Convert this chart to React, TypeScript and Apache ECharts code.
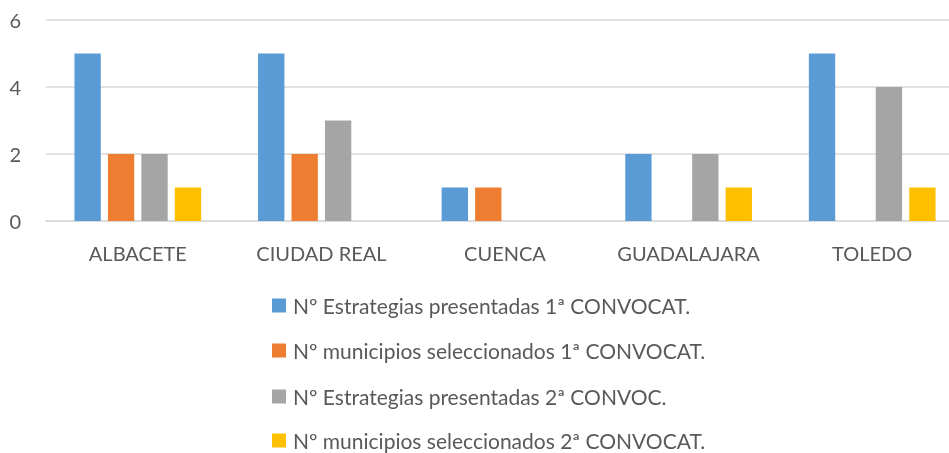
import React, { useEffect, useRef } from "react";
import * as echarts from "echarts";

const categories = ["ALBACETE", "CIUDAD REAL", "CUENCA", "GUADALAJARA", "TOLEDO"];
const seriesNames = [
  "Nº Estrategias presentadas 1ª CONVOCAT.",
  "Nº municipios seleccionados 1ª CONVOCAT.",
  "Nº Estrategias presentadas 2ª CONVOC.",
  "Nº municipios seleccionados 2ª CONVOCAT.",
];
const estrategias1 = [5, 5, 1, 2, 5];
const municipios1 = [2, 2, 1, 0, 0];
const estrategias2 = [2, 3, 0, 2, 4];
const municipios2 = [1, 0, 0, 1, 1];
const colors = ["#5b9bd5", "#ed7d31", "#a5a5a5", "#ffc000"];
const yTicks = { min: 0, max: 6, interval: 2 };
const legendRowCenters = [305, 350, 396, 440];

export default function App() {
  const ref = useRef<HTMLDivElement>(null);
  useEffect(() => {
    if (!ref.current) return;
    const chart = echarts.init(ref.current, null, { renderer: "svg" });
    const font = "Lato, 'Open Sans', sans-serif";
    const data = [estrategias1, municipios1, estrategias2, municipios2];
    chart.setOption({
      animation: false,
      color: colors,
      grid: { left: 46, width: 918, top: 20, bottom: 232, containLabel: false, outerBoundsMode: "none" },
      xAxis: {
        type: "category",
        data: categories,
        axisLine: { show: true, lineStyle: { color: "#d9d9d9", width: 1.5 } },
        axisTick: { show: false },
        axisLabel: { color: "#595959", fontSize: 20, fontFamily: font, margin: 22, interval: 0 },
      },
      yAxis: {
        type: "value",
        min: yTicks.min,
        max: yTicks.max,
        interval: yTicks.interval,
        axisLine: { show: false },
        axisTick: { show: false },
        splitLine: { lineStyle: { color: "#d9d9d9", width: 1.5 } },
        axisLabel: { color: "#595959", fontSize: 20, fontFamily: font, margin: 25 },
      },
      legend: seriesNames.map((name, i) => ({
        orient: "horizontal",
        left: 272,
        top: legendRowCenters[i] - 10,
        height: 20,
        padding: 0,
        itemWidth: 14,
        itemHeight: 14,
        icon: "rect",
        textStyle: { color: "#595959", fontSize: 21, fontFamily: font, lineHeight: 20, padding: [0, 0, 0, 2] },
        data: [name],
      })),
      series: data.map((d, i) => ({
        name: seriesNames[i],
        type: "bar",
        data: d.map((v) => (v === 0 ? null : v)),
        barGap: "27%",
        barCategoryGap: "31%",
        itemStyle: { color: colors[i] },
      })),
    });
    return () => chart.dispose();
  }, []);
  return (
    <div
      ref={ref}
      style={{ position: "fixed", left: 0, top: 0, width: 949, height: 453, overflow: "hidden" }}
    />
  );
}
